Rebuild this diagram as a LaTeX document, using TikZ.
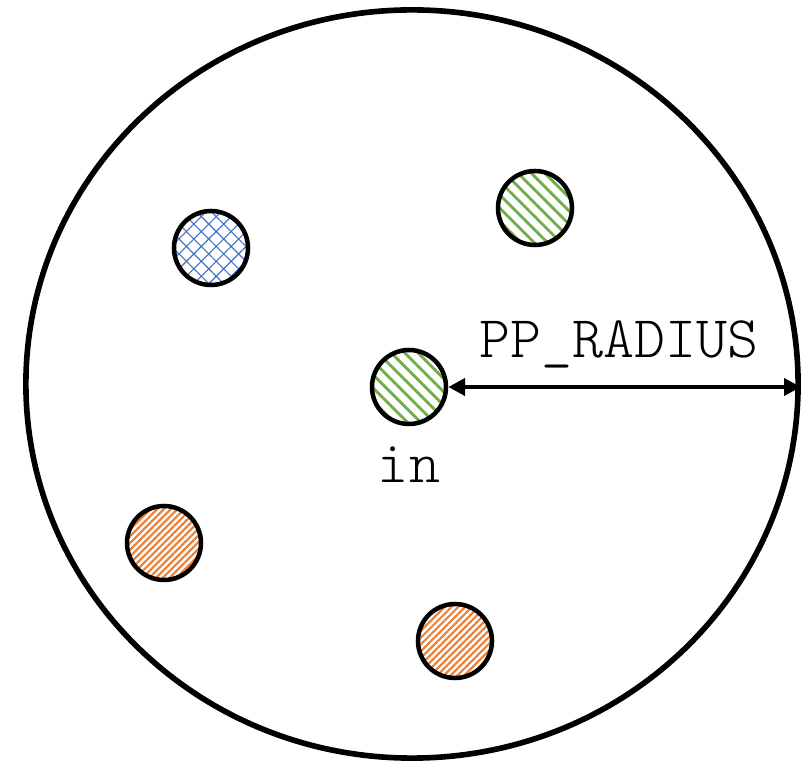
\documentclass[tikz,border=0pt]{standalone}
\usepackage{fontspec}
\usetikzlibrary{positioning,shapes.geometric,patterns.meta,arrows.meta}
\setmonofont{Latin Modern Mono Light}
\definecolor{hatchblue}{HTML}{4472C4}
\definecolor{hatchgreen}{HTML}{70AD47}
\definecolor{hatchorange}{HTML}{ED7D31}
\tikzset{
  particle/.style={circle,draw,line width=3.2pt,minimum size=1.85cm,inner sep=0pt},
  bluep/.style={particle,pattern={Hatch[angle=45,distance=7.5pt,line width=0.8pt]},pattern color=hatchblue},
  greenp/.style={particle,pattern={Lines[angle=-45,distance=6.7pt,line width=2pt]},pattern color=hatchgreen},
  orangep/.style={particle,pattern={Lines[angle=45,distance=3.4pt,line width=1.5pt]},pattern color=hatchorange},
  lbl/.style={font=\ttfamily\fontsize{42}{42}\selectfont,inner sep=0pt}
}
\begin{document}
\begin{tikzpicture}[x=0.025cm,y=-0.025cm]
\useasboundingbox (0,0) rectangle (805,761);
% probe region
\node[ellipse,draw,line width=4pt,minimum width=19.3cm,minimum height=18.7cm,inner sep=0pt] (plate) at (412,384) {};
% particles
\node[bluep] (p1) at (211,248) {};
\node[greenp] (p2) at (535,208) {};
\node[greenp] (inp) at (409,387) {};
\node[orangep] (p3) at (164,543) {};
\node[orangep] (p4) at (455,641) {};
\node[lbl,below=0.5cm of inp] (inlbl) {in};
% radius
\draw[{Triangle[length=12pt,width=12pt]}-{Triangle[length=12pt,width=12pt]},line width=3.2pt] (inp.east) -- (inp.east -| plate.east)
  node[lbl,midway,above=0.42cm,xshift=-0.15cm] (rlbl) {PP\_RADIUS};
\end{tikzpicture}
\end{document}
